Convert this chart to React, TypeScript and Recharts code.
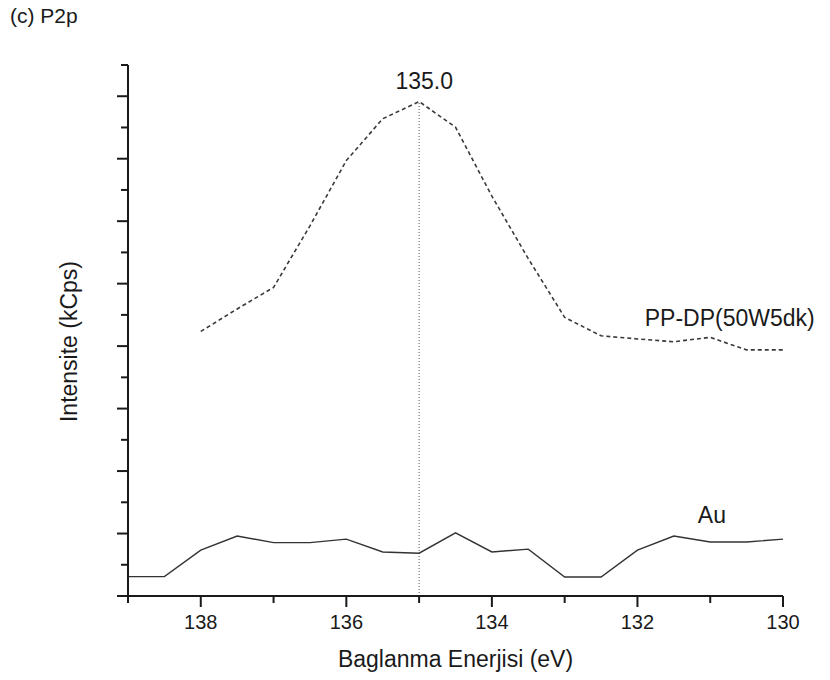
import React from "react";
import {
  LineChart,
  Line,
  XAxis,
  YAxis,
  ReferenceLine,
  ReferenceDot,
  Label,
} from "recharts";

// binding energy grid (eV), read every 0.5 eV
const energies = [
  139, 138.5, 138, 137.5, 137, 136.5, 136, 135.5, 135, 134.5, 134, 133.5, 133,
  132.5, 132, 131.5, 131, 130.5, 130,
];
// Au reference (solid)
const auValues = [
  0.62, 0.62, 1.47, 1.92, 1.71, 1.71, 1.82, 1.41, 1.37, 2.02, 1.41, 1.5, 0.61,
  0.61, 1.47, 1.92, 1.73, 1.73, 1.82,
];
// PP-DP(50W5dk) (dashed), no data at 139 / 138.5
const ppdpValues = [
  null, null, 8.47, 9.19, 9.88, 11.85, 13.94, 15.28, 15.83, 15.01, 12.8, 10.8,
  8.92, 8.33, 8.23, 8.14, 8.28, 7.88, 7.88,
];

const xTicks = [139, 138, 137, 136, 135, 134, 133, 132, 131, 130];
const yTicks = [0, 1, 2, 3, 4, 5, 6, 7, 8, 9, 10, 11, 12, 13, 14, 15, 16, 17];
const peakEnergy = 135.0;

const data = energies.map((e, i) => ({
  energy: e,
  au: auValues[i],
  ppdp: ppdpValues[i],
}));
const peakValue = ppdpValues[energies.indexOf(peakEnergy)] ?? 0;

const FONT = '"Liberation Sans", Arial, Helvetica, sans-serif';
const INK = "#1a1a1a";

function XTick(props: any) {
  const { x, y, payload } = props;
  const major = payload.value % 2 === 0;
  return (
    <g>
      <line x1={x} x2={x} y1={y} y2={y + (major ? 11 : 7)} stroke={INK} strokeWidth={2} />
      {major && (
        <text x={x} y={y + 33} textAnchor="middle" fontSize={20} fill={INK} fontFamily={FONT}>
          {payload.value}
        </text>
      )}
    </g>
  );
}

function YTick(props: any) {
  const { x, y, payload } = props;
  const major = payload.value % 2 === 0;
  return <line x1={x} x2={x - (major ? 11 : 7)} y1={y} y2={y} stroke={INK} strokeWidth={2} />;
}

const labelStyle = { fontSize: 23, fill: INK, fontFamily: FONT };

export default function App() {
  return (
    <div
      style={{
        position: "absolute",
        left: 0,
        top: 0,
        width: 830,
        height: 680,
        background: "#fff",
        fontFamily: FONT,
      }}
    >
      <div
        style={{
          position: "absolute",
          left: 10,
          top: 4,
          fontSize: 21,
          color: INK,
          fontFamily: FONT,
        }}
      >
        (c) P2p
      </div>
      <LineChart
        width={830}
        height={680}
        data={data}
        margin={{ top: 65, right: 47, bottom: 0, left: 0 }}
      >
        <XAxis
          dataKey="energy"
          type="number"
          domain={[130, 139]}
          reversed
          ticks={xTicks}
          interval={0}
          height={84}
          tickSize={0}
          tickMargin={0}
          tickLine={false}
          tick={(p: any) => <XTick {...p} />}
          axisLine={{ stroke: INK, strokeWidth: 2 }}
        >
          <Label
            value="Baglanma Enerjisi (eV)"
            position="insideBottom"
            offset={13}
            {...labelStyle}
          />
        </XAxis>
        <YAxis
          type="number"
          domain={[0, 17]}
          ticks={yTicks}
          interval={0}
          width={128}
          tickSize={0}
          tickMargin={0}
          tickLine={false}
          tick={(p: any) => <YTick {...p} />}
          axisLine={{ stroke: INK, strokeWidth: 2 }}
        >
          <Label
            value="Intensite (kCps)"
            angle={-90}
            position="center"
            dx={5}
            dy={11}
            {...labelStyle}
          />
        </YAxis>

        {/* peak marker */}
        <ReferenceLine
          segment={[
            { x: peakEnergy, y: 0 },
            { x: peakEnergy, y: peakValue },
          ]}
          stroke="#555"
          strokeWidth={1}
          strokeDasharray="1 2"
        />

        <Line
          type="linear"
          dataKey="au"
          stroke="#333"
          strokeWidth={1.4}
          dot={false}
          isAnimationActive={false}
        />
        <Line
          type="linear"
          dataKey="ppdp"
          stroke="#3a3a3a"
          strokeWidth={1.6}
          strokeDasharray="4 3"
          dot={false}
          isAnimationActive={false}
        />

        <ReferenceDot x={134.93} y={16.49} r={0} stroke="none" fill="none">
          <Label value="135.0" position="center" {...labelStyle} />
        </ReferenceDot>
        <ReferenceDot x={131.9} y={8.9} r={0} stroke="none" fill="none">
          <Label value="PP-DP(50W5dk)" position="right" offset={0} {...labelStyle} />
        </ReferenceDot>
        <ReferenceDot x={131.17} y={2.6} r={0} stroke="none" fill="none">
          <Label value="Au" position="right" offset={0} {...labelStyle} />
        </ReferenceDot>
      </LineChart>
    </div>
  );
}
